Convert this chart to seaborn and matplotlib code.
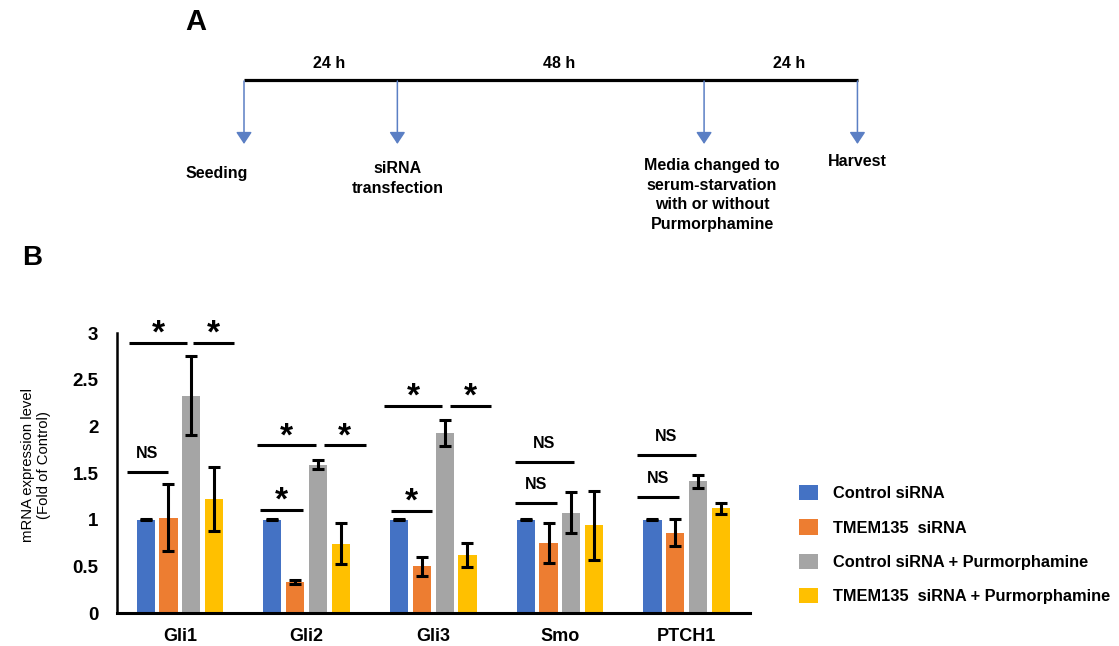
import numpy as np
import pandas as pd
import matplotlib
matplotlib.use("Agg")
import matplotlib.pyplot as plt
from matplotlib.patches import Patch
import seaborn as sns

# ---- data ----
genes = ["Gli1", "Gli2", "Gli3", "Smo", "PTCH1"]
groups = ["Control siRNA", "TMEM135  siRNA",
          "Control siRNA + Purmorphamine", "TMEM135  siRNA + Purmorphamine"]
colors = ["#4472C4", "#ED7D31", "#A5A5A5", "#FFC000"]

control = [1.0, 1.0, 1.0, 1.0, 1.0]
control_err = [0.005, 0.005, 0.005, 0.005, 0.005]
tmem = [1.02, 0.335, 0.50, 0.75, 0.86]
tmem_err = [0.36, 0.02, 0.10, 0.21, 0.145]
control_pur = [2.33, 1.59, 1.93, 1.075, 1.41]
control_pur_err = [0.42, 0.05, 0.14, 0.22, 0.07]
tmem_pur = [1.22, 0.74, 0.62, 0.94, 1.12]
tmem_pur_err = [0.34, 0.22, 0.125, 0.37, 0.06]

yticks = [0, 0.5, 1, 1.5, 2, 2.5, 3]
ytick_labels = ["0", "0.5", "1", "1.5", "2", "2.5", "3"]

# significance marks: (gene index, start offset, end offset, height, label)
sig_marks = [
    (0, -0.405, 0.06, 2.895, "*"), (0, 0.10, 0.43, 2.895, "*"), (0, -0.42, -0.09, 1.51, "NS"),
    (1, -0.39, 0.075, 1.795, "*"), (1, 0.135, 0.47, 1.795, "*"), (1, -0.37, -0.03, 1.105, "*"),
    (2, -0.39, 0.07, 2.22, "*"), (2, 0.13, 0.457, 2.22, "*"), (2, -0.334, -0.006, 1.097, "*"),
    (3, -0.353, 0.11, 1.62, "NS"), (3, -0.353, -0.025, 1.18, "NS"),
    (4, -0.394, 0.07, 1.69, "NS"), (4, -0.394, -0.06, 1.24, "NS"),
]

# timeline (panel A)
event_hours = [0, 24, 72, 96]
event_labels = ["Seeding", "siRNA\ntransfection",
                "Media changed to\nserum-starvation\nwith or without\nPurmorphamine", "Harvest"]
interval_labels = ["24 h", "48 h", "24 h"]

values = [control, tmem, control_pur, tmem_pur]
errors = [control_err, tmem_err, control_pur_err, tmem_pur_err]
df = pd.DataFrame({
    "gene": genes * 4,
    "group": np.repeat(groups, len(genes)),
    "value": np.concatenate(values),
})

sns.set_style("white")
plt.rcParams["font.family"] = ["Liberation Sans", "DejaVu Sans"]
plt.rcParams["text.color"] = "black"
plt.rcParams["xtick.color"] = "black"
plt.rcParams["ytick.color"] = "black"
plt.rcParams["axes.labelcolor"] = "black"

W, H = 1119, 646
fig = plt.figure(figsize=(W / 100, H / 100), dpi=100)

# overlay in pixel coordinates for the timeline and labels
ov = fig.add_axes([0, 0, 1, 1])
ov.set_xlim(0, W)
ov.set_ylim(H, 0)
ov.axis("off")

ov.text(196, 22, "A", fontsize=21, fontweight="bold", ha="center", va="center")
ov.text(32, 258, "B", fontsize=20, fontweight="bold", ha="center", va="center")

x0, px_per_h, line_y = 244, 6.39, 80
ex = [x0 + h * px_per_h for h in event_hours]
ov.plot([ex[0], ex[-1] + 1], [line_y, line_y], color="black", lw=2.3, solid_capstyle="butt")
for i in range(len(interval_labels)):
    ov.text((ex[i] + ex[i + 1]) / 2 + 8, 63, interval_labels[i], fontsize=11.5,
            fontweight="bold", ha="center", va="center")
label_dx = [-27, 0, 8, 0]
label_top = [166, 161, 158, 154]
for i, lab in enumerate(event_labels):
    ov.annotate("", xy=(ex[i], 144), xytext=(ex[i], line_y + 1),
                arrowprops=dict(arrowstyle="-|>,head_length=0.45,head_width=0.3",
                                color="#5B7FC4", lw=1.1, mutation_scale=16,
                                shrinkA=0, shrinkB=0))
    ov.text(ex[i] + label_dx[i], label_top[i], lab, fontsize=11.5, fontweight="bold",
            ha="center", va="top", multialignment="center", linespacing=1.38)

ov.text(36, 465, "mRNA expression level\n(Fold of Control)", fontsize=10.7,
        rotation=90, ha="center", va="center", multialignment="center", linespacing=1.1)

# ---- panel B ----
ax = fig.add_axes([116.5 / W, 1 - 613 / H, (750 - 116.5) / W, (613 - 333) / H])
sns.barplot(data=df, x="gene", y="value", hue="group", order=genes, hue_order=groups,
            palette=colors, saturation=1, width=0.72, gap=0.2, errorbar=None,
            legend=False, linewidth=0, ax=ax)

for cont, err in zip(ax.containers, errors):
    xs = [b.get_x() + b.get_width() / 2 for b in cont]
    ys = [b.get_height() for b in cont]
    ax.errorbar(xs, ys, yerr=err, fmt="none", ecolor="black", elinewidth=2.2,
                capsize=4.5, capthick=2.2, zorder=5)

for gi, a, b, y, lab in sig_marks:
    ax.plot([gi + a, gi + b], [y, y], color="black", lw=2.2, solid_capstyle="butt",
            clip_on=False)
    xc = gi + (a + b) / 2
    if lab == "*":
        ax.annotate(lab, xy=(xc, y), xytext=(0, 0), textcoords="offset points",
                    ha="center", va="baseline", fontsize=24, fontweight="bold",
                    annotation_clip=False)
    else:
        ax.annotate(lab, xy=(xc, y), xytext=(0, 13.5), textcoords="offset points",
                    ha="center", va="center", fontsize=11.5, fontweight="bold",
                    annotation_clip=False)

ax.set_xlim(-0.5, 4.5)
ax.set_ylim(0, 3)
ax.set_yticks(yticks)
ax.set_yticklabels(ytick_labels)
ax.set_xlabel("")
ax.set_ylabel("")
ax.tick_params(axis="y", length=0, pad=13, labelsize=13.5)
ax.tick_params(axis="x", length=0, pad=10.5, labelsize=13)
for t in ax.get_xticklabels() + ax.get_yticklabels():
    t.set_fontweight("bold")
sns.despine(ax=ax)
ax.spines["left"].set_linewidth(1.8)
ax.spines["bottom"].set_linewidth(2.2)
ax.spines["left"].set_color("black")
ax.spines["bottom"].set_color("black")
ax.patch.set_alpha(0)

handles = [Patch(facecolor=c, edgecolor="none") for c in colors]
fig.legend(handles, groups, loc="upper left", bbox_to_anchor=(791 / W, 1 - 477 / H),
           frameon=False, borderpad=0, handlelength=1.15, handleheight=1.05,
           handletextpad=0.9, labelspacing=1.1, prop={"weight": "bold", "size": 11.8})

fig.savefig("out.png", dpi=100)
